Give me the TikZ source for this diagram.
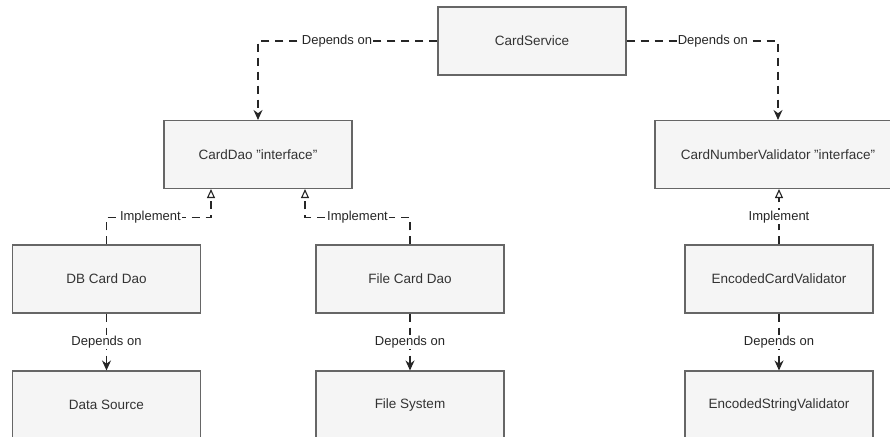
\documentclass[tikz,border=0pt]{standalone}
\usepackage{fontspec}
\setmainfont{Liberation Sans}
\usetikzlibrary{arrows.meta}

\definecolor{boxfill}{HTML}{F5F5F5}
\definecolor{boxline}{HTML}{666666}
\definecolor{ink}{HTML}{333333}

\tikzset{
  classbox/.style={draw=boxline, fill=boxfill, line width=1.1pt, minimum width=188, minimum height=68,
    text=ink, font=\fontsize{13.5}{16}\selectfont},
  dep/.style={draw=black!85, line width=1.1pt, dash pattern=on 8pt off 6pt,
    -{Stealth[length=10pt,width=9pt]}},
  impl/.style={draw=black!85, line width=1.1pt, dash pattern=on 8pt off 6pt,
    -{Triangle[open,length=9pt,width=8pt,fill=white]}},
  lbl/.style={fill=white, inner sep=1pt, text=black!85, font=\fontsize{13}{15}\selectfont}
}

\begin{document}
\begin{tikzpicture}[x=1pt,y=-1pt]
  \useasboundingbox (0,0) rectangle (890,436);
  \clip (0,0) rectangle (890,436);

  % top
  \node[classbox] (service) at (532,41) {CardService};

  % interfaces
  \node[classbox] (dao) at (258,154.5) {CardDao "interface"};
  \node[classbox, minimum width=246] (validator) at (778,154.5) {CardNumberValidator "interface"};

  % implementations
  \node[classbox] (dbdao) at (106.5,279) {DB Card Dao};
  \node[classbox] (filedao) at (410,279) {File Card Dao};
  \node[classbox] (encval) at (779,279) {EncodedCardValidator};

  % dependencies
  \node[classbox] (datasrc) at (106.5,405) {Data Source};
  \node[classbox] (filesys) at (410,405) {File System};
  \node[classbox] (encstr) at (779,405) {EncodedStringValidator};

  % connectors
  \draw[dep] (service.west) -| node[lbl, pos=0.28] {Depends on} (dao.north);
  \draw[dep] (service.east) -| node[lbl, pos=0.285] {Depends on} (validator.north);

  \draw[impl] (dbdao.north) -- ++(0,-27) -| node[lbl, pos=0.21] {Implement} ([xshift=-47]dao.south);
  \draw[impl] (filedao.north) -- ++(0,-27) -| node[lbl, pos=0.25] {Implement} ([xshift=47]dao.south);
  \draw[impl] (encval.north) -- node[lbl] {Implement} (encval.north |- validator.south);

  \draw[dep] (dbdao) -- node[lbl] {Depends on} (datasrc);
  \draw[dep] (filedao) -- node[lbl] {Depends on} (filesys);
  \draw[dep] (encval) -- node[lbl] {Depends on} (encstr);
\end{tikzpicture}
\end{document}
